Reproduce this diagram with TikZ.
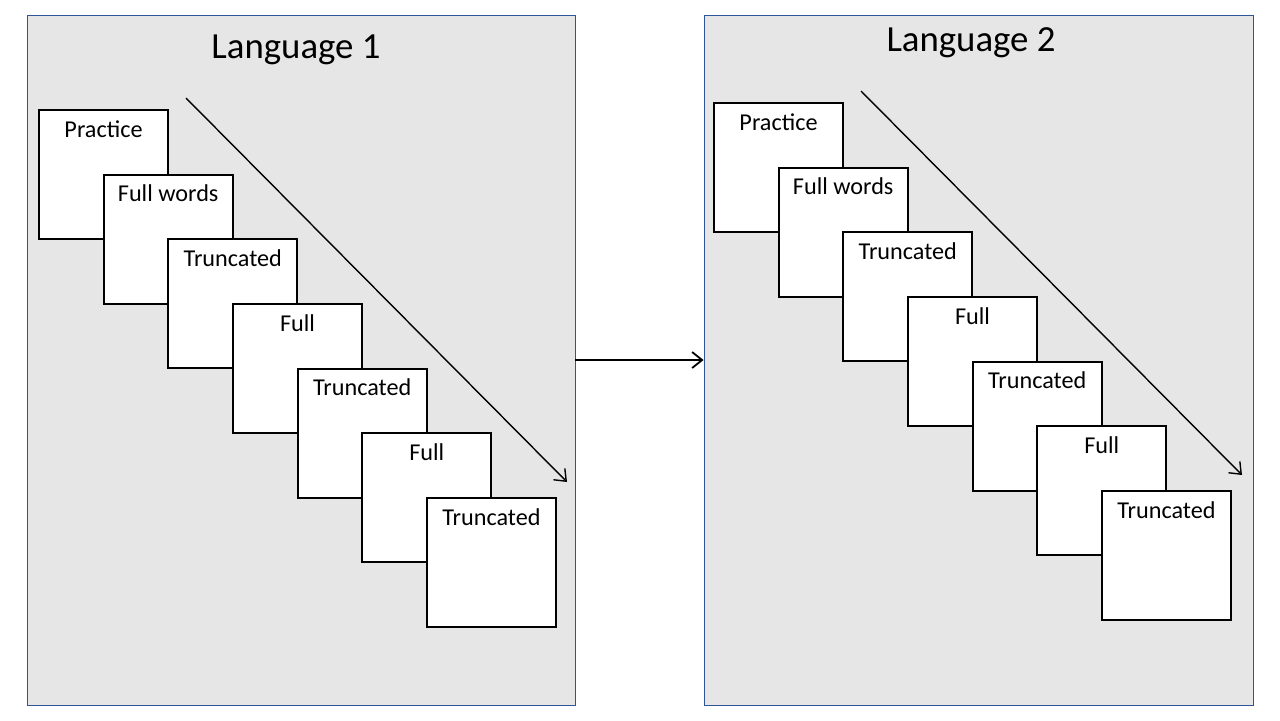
\documentclass[tikz,border=0pt]{standalone}
\usepackage{fontspec}
\setmainfont{Carlito}
\usetikzlibrary{arrows.meta}
\definecolor{panelfill}{HTML}{E7E6E6}
\definecolor{panelline}{HTML}{2F5597}
\tikzset{
  panel/.style={draw=panelline, line width=0.45pt, fill=panelfill},
  card/.style={draw=black, line width=1pt, fill=white, minimum width=64.5pt, minimum height=64.5pt, inner sep=0pt, rectangle},
  lbl/.style={anchor=north, inner sep=0pt, font=\fontsize{12.1}{14}\selectfont, yshift=-5.5pt},
  ttl/.style={inner sep=0pt, font=\fontsize{18.4}{22}\selectfont},
  arr/.style={line width=0.7pt, -{Straight Barb[length=5pt,width=8pt,line width=0.7pt]}},
  marr/.style={line width=0.9pt, -{Straight Barb[length=5pt,width=8pt,line width=0.9pt]}}
}
\begin{document}
\begin{tikzpicture}[x=0.5pt,y=-0.5pt]
\useasboundingbox[fill=white] (0,0) rectangle (1280,720);
% panels
\node[panel, minimum width=274pt, minimum height=345pt, inner sep=0pt] (p1) at (301,360) {};
\node[panel, minimum width=274.5pt, minimum height=345pt, inner sep=0pt] (p2) at (978.5,360) {};
\node[ttl] (t1) at (296,50) {Language 1};
\node[ttl] (t2) at (971,43) {Language 2};
% left cards
\node[card] (a1) at (103.5,174.5) {};
\node[lbl] (la1) at (a1.north) {Practice};
\node[card] (a2) at (168.2,239.2) {};
\node[lbl] (la2) at (a2.north) {Full words};
\node[card] (a3) at (232.8,303.8) {};
\node[lbl] (la3) at (a3.north) {Truncated};
\node[card] (a4) at (297.5,368.5) {};
\node[lbl] (la4) at (a4.north) {Full};
\node[card] (a5) at (362.2,433.2) {};
\node[lbl] (la5) at (a5.north) {Truncated};
\node[card] (a6) at (426.8,497.8) {};
\node[lbl] (la6) at (a6.north) {Full};
\node[card] (a7) at (491.5,562.5) {};
\node[lbl] (la7) at (a7.north) {Truncated};
% right cards
\node[card] (b1) at (778.5,167.5) {};
\node[lbl] (lb1) at (b1.north) {Practice};
\node[card] (b2) at (843.2,232.2) {};
\node[lbl] (lb2) at (b2.north) {Full words};
\node[card] (b3) at (907.8,296.8) {};
\node[lbl] (lb3) at (b3.north) {Truncated};
\node[card] (b4) at (972.5,361.5) {};
\node[lbl] (lb4) at (b4.north) {Full};
\node[card] (b5) at (1037.2,426.2) {};
\node[lbl] (lb5) at (b5.north) {Truncated};
\node[card] (b6) at (1101.8,490.8) {};
\node[lbl] (lb6) at (b6.north) {Full};
\node[card] (b7) at (1166.5,555.5) {};
\node[lbl] (lb7) at (b7.north) {Truncated};
% diagonal arrows
\coordinate (d1s) at (186,98);
\coordinate (d1e) at (567,482);
\coordinate (d2s) at (861,91);
\coordinate (d2e) at (1242,475);
\draw[arr] (d1s) -- (d1e);
\draw[arr] (d2s) -- (d2e);
% middle arrow
\draw[marr] (p1.east) -- (p2.west);
\end{tikzpicture}
\end{document}
